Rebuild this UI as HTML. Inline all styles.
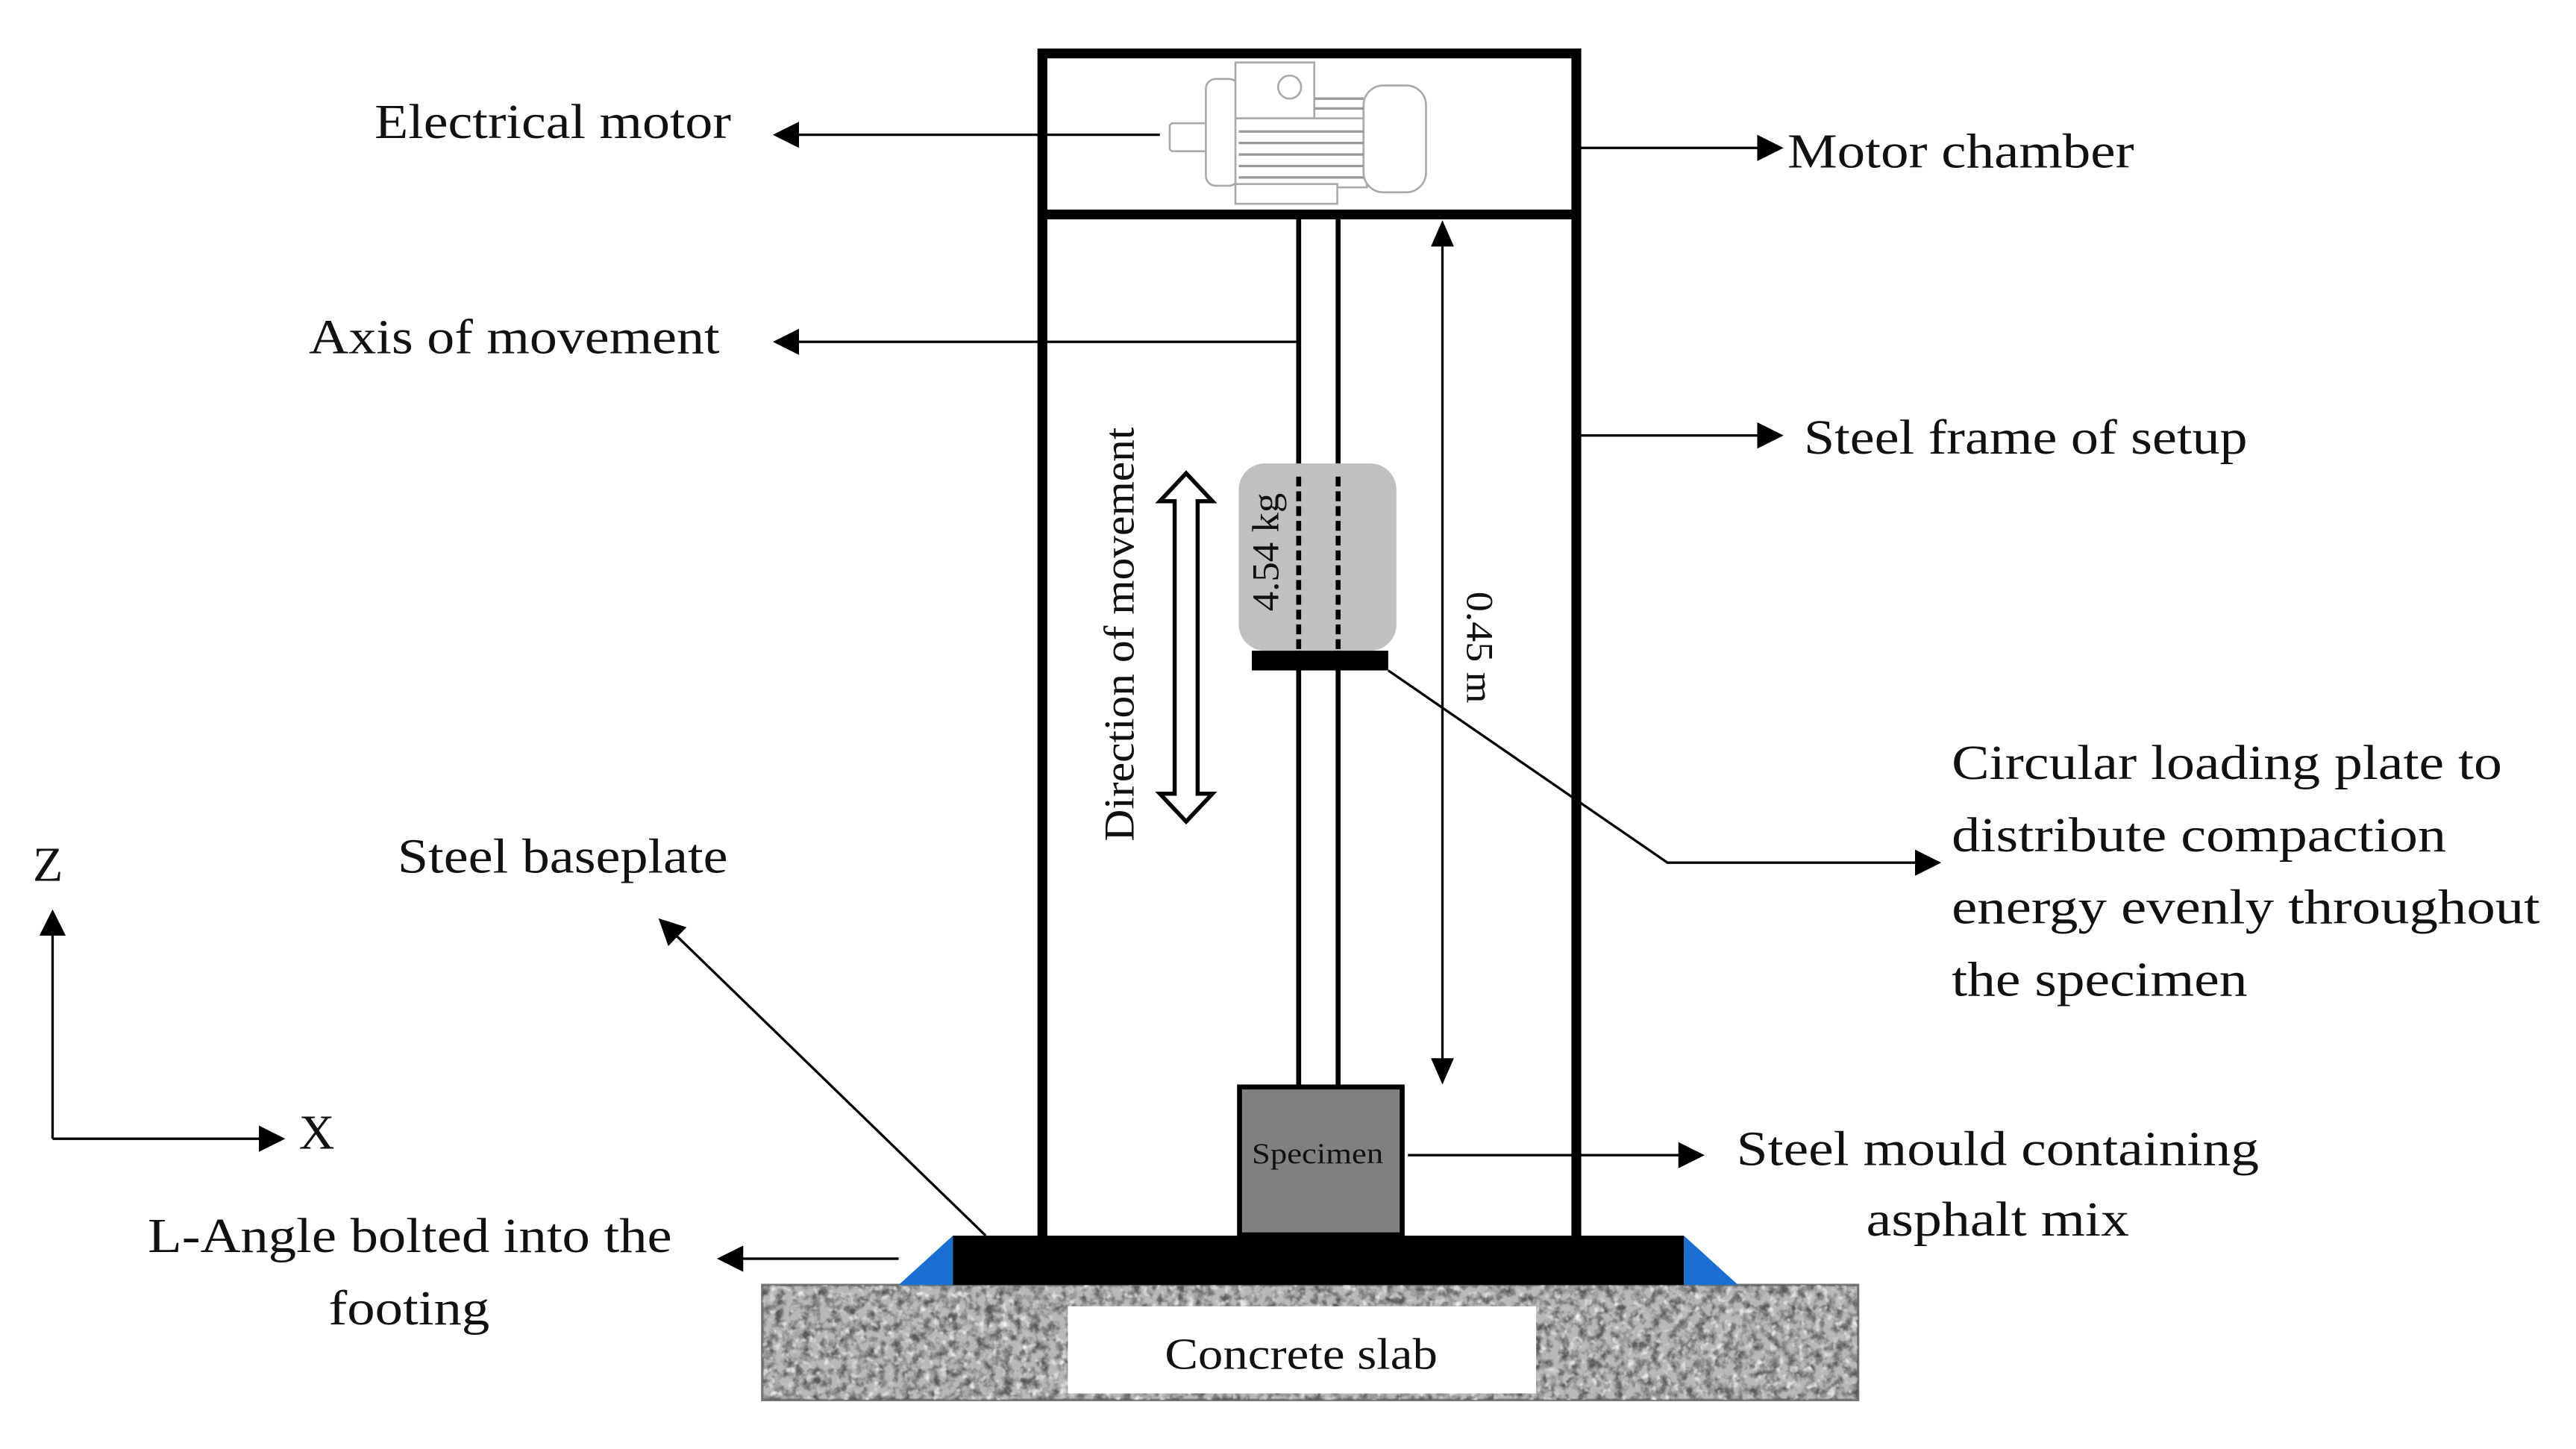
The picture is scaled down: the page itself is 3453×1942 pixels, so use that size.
<!DOCTYPE html>
<html><head><meta charset="utf-8"><style>
html,body{margin:0;padding:0;background:#fff;}
svg{display:block;}
text{font-family:"Liberation Serif",serif;fill:#111;}
</style></head><body>
<svg width="3453" height="1942" viewBox="0 0 1568 881.8" xmlns="http://www.w3.org/2000/svg">
<defs>
<marker id="ah" viewBox="0 0 10 10" refX="9" refY="5" markerWidth="16" markerHeight="16" markerUnits="userSpaceOnUse" orient="auto">
<path d="M0,0 L10,5 L0,10 z" fill="#000"/></marker>
<filter id="conc" x="0" y="0" width="100%" height="100%">
<feTurbulence type="fractalNoise" baseFrequency="0.18" numOctaves="3" seed="4"/>
<feColorMatrix type="matrix" values="0 0 0 0 0.1  0 0 0 0 0.1  0 0 0 0 0.1  0 0 0 -2.6 1.55"/>
<feComposite in2="SourceGraphic" operator="in"/>
</filter>
<filter id="conc2" x="0" y="0" width="100%" height="100%">
<feTurbulence type="fractalNoise" baseFrequency="0.22" numOctaves="2" seed="9"/>
<feColorMatrix type="matrix" values="0 0 0 0 1  0 0 0 0 1  0 0 0 0 1  0 0 0 2.6 -1.45"/>
<feComposite in2="SourceGraphic" operator="in"/>
</filter>
</defs>

<rect x="464" y="782" width="667" height="70" fill="#b8b8b8" stroke="#777" stroke-width="1.5"/>
<rect x="464" y="782" width="667" height="70" fill="#000" filter="url(#conc)"/>
<rect x="464" y="782" width="667" height="70" fill="#000" filter="url(#conc2)"/>
<rect x="650" y="795" width="285" height="53" fill="#fff"/>
<text x="709" y="833" font-size="27" textLength="166" lengthAdjust="spacingAndGlyphs">Concrete slab</text>

<path d="M547,782 L580,752 L580,782 z" fill="#1a6fd0"/>
<path d="M1025,752 L1058,782 L1025,782 z" fill="#1a6fd0"/>
<rect x="580" y="752" width="445" height="30" fill="#000"/>

<rect x="634.5" y="32.5" width="325" height="725" fill="none" stroke="#000" stroke-width="6"/>
<line x1="634" y1="130.5" x2="960" y2="130.5" stroke="#000" stroke-width="6"/>

<g fill="#fff" stroke="#aaa" stroke-width="1.2">
<rect x="712" y="75" width="26" height="17" rx="2"/>
<rect x="734" y="48" width="20" height="65" rx="6"/>
<rect x="752" y="38" width="48" height="34"/>
<circle cx="785" cy="53" r="7"/>
<rect x="752" y="72" width="80" height="42"/>
<rect x="830" y="52" width="38" height="65" rx="12"/>
<rect x="752" y="112" width="62" height="12"/>
</g>
<g stroke="#999" stroke-width="1.5">
<line x1="754" y1="80" x2="830" y2="80"/><line x1="754" y1="87" x2="830" y2="87"/>
<line x1="754" y1="94" x2="830" y2="94"/><line x1="754" y1="101" x2="830" y2="101"/>
<line x1="754" y1="108" x2="830" y2="108"/><line x1="800" y1="60" x2="830" y2="60"/><line x1="800" y1="66" x2="830" y2="66"/>
</g>

<line x1="790.5" y1="133" x2="790.5" y2="660" stroke="#000" stroke-width="3"/>
<line x1="814.5" y1="133" x2="814.5" y2="660" stroke="#000" stroke-width="3"/>

<rect x="754" y="282" width="96" height="114" rx="16" fill="#c0c0c0"/>
<line x1="790.5" y1="290" x2="790.5" y2="396" stroke="#000" stroke-width="3" stroke-dasharray="6,3"/>
<line x1="814.5" y1="290" x2="814.5" y2="396" stroke="#000" stroke-width="3" stroke-dasharray="6,3"/>
<text transform="translate(778,336) rotate(-90)" font-size="23" text-anchor="middle" textLength="72" lengthAdjust="spacingAndGlyphs">4.54 kg</text>
<rect x="762" y="396" width="83" height="12" fill="#000"/>

<path d="M722,288 L738,305 L729,305 L729,483 L738,483 L722,500 L706,483 L715,483 L715,305 L706,305 z" fill="#fff" stroke="#000" stroke-width="2.5"/>
<text transform="translate(690,386) rotate(-90)" font-size="26" text-anchor="middle" textLength="252" lengthAdjust="spacingAndGlyphs">Direction of movement</text>

<line x1="878" y1="150" x2="878" y2="645" stroke="#000" stroke-width="1.5"/>
<path d="M878,134 L871,150 L885,150 z" fill="#000"/>
<path d="M878,660 L871,644 L885,644 z" fill="#000"/>
<text transform="translate(893,394) rotate(90)" font-size="23" text-anchor="middle" textLength="68" lengthAdjust="spacingAndGlyphs">0.45 m</text>

<rect x="754.5" y="661.5" width="99" height="90" fill="#808080" stroke="#000" stroke-width="3"/>
<text x="762" y="708" font-size="18" textLength="80" lengthAdjust="spacingAndGlyphs">Specimen</text>

<g stroke="#000" stroke-width="1.5" fill="none">
<line x1="706" y1="82" x2="472" y2="82" marker-end="url(#ah)"/>
<line x1="962" y1="90" x2="1084" y2="90" marker-end="url(#ah)"/>
<line x1="790" y1="208" x2="472" y2="208" marker-end="url(#ah)"/>
<line x1="962" y1="265" x2="1084" y2="265" marker-end="url(#ah)"/>
<polyline points="845,408 1015,525 1180,525" marker-end="url(#ah)"/>
<line x1="857" y1="703" x2="1036" y2="703" marker-end="url(#ah)"/>
<line x1="547" y1="766" x2="438" y2="766" marker-end="url(#ah)"/>
<line x1="600" y1="752" x2="402" y2="560" marker-end="url(#ah)"/>
<line x1="32" y1="693" x2="32" y2="555" marker-end="url(#ah)"/>
<line x1="32" y1="693" x2="172" y2="693" marker-end="url(#ah)"/>
</g>

<g font-size="30">
<text x="228" y="84" textLength="217" lengthAdjust="spacingAndGlyphs">Electrical motor</text>
<text x="1088" y="102" textLength="211" lengthAdjust="spacingAndGlyphs">Motor chamber</text>
<text x="188" y="215" textLength="250" lengthAdjust="spacingAndGlyphs">Axis of movement</text>
<text x="1098" y="276" textLength="270" lengthAdjust="spacingAndGlyphs">Steel frame of setup</text>
<text x="1188" y="474" textLength="335" lengthAdjust="spacingAndGlyphs">Circular loading plate to</text>
<text x="1188" y="518" textLength="301" lengthAdjust="spacingAndGlyphs">distribute compaction</text>
<text x="1188" y="562" textLength="358" lengthAdjust="spacingAndGlyphs">energy evenly throughout</text>
<text x="1188" y="606" textLength="180" lengthAdjust="spacingAndGlyphs">the specimen</text>
<text x="242" y="531" textLength="201" lengthAdjust="spacingAndGlyphs">Steel baseplate</text>
<text x="1057" y="709" textLength="318" lengthAdjust="spacingAndGlyphs">Steel mould containing</text>
<text x="1136" y="752" textLength="160" lengthAdjust="spacingAndGlyphs">asphalt mix</text>
<text x="90" y="762" textLength="319" lengthAdjust="spacingAndGlyphs">L-Angle bolted into the</text>
<text x="200" y="806" textLength="98" lengthAdjust="spacingAndGlyphs">footing</text>
<text x="20" y="536">Z</text>
<text x="182" y="699">X</text>
</g>
</svg>
</body></html>
